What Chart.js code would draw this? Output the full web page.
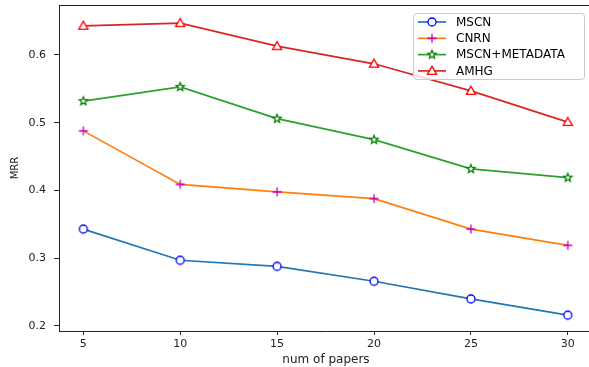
<!DOCTYPE html>
<html>
<head>
<meta charset="utf-8">
<script src="https://cdn.jsdelivr.net/npm/chart.js@4.4.1/dist/chart.umd.min.js"></script>
<style>
html,body{margin:0;padding:0;background:#fff;overflow:hidden}
#wrap{width:593px;height:367px;position:relative}
</style>
</head>
<body>
<div id="wrap"><canvas id="mrrChart"></canvas></div>
<script>
/* ---------- data ---------- */
const numPapers=[5,10,15,20,25,30];
const mscn=[0.343,0.297,0.288,0.266,0.240,0.216];
const cnrn=[0.488,0.409,0.398,0.388,0.343,0.319];
const mscnMeta=[0.532,0.553,0.506,0.475,0.432,0.419];
const amhg=[0.643,0.647,0.613,0.587,0.547,0.501];
const yTicks=[0.2,0.3,0.4,0.5,0.6];
const seriesNames=["MSCN","CNRN","MSCN+METADATA","AMHG"];

const FONT="'DejaVu Sans', sans-serif";

/* ---------- markers (matplotlib look) ---------- */
function makeMarker(kind){
    const c=document.createElement("canvas");
    c.width=14;c.height=14;
    const g=c.getContext("2d");
    g.translate(7,7);
    g.lineWidth=1.3;
    g.fillStyle="#fff";
    if(kind==="circle"){
        g.strokeStyle="#0000ff";
        g.beginPath();g.arc(0,0,4,0,Math.PI*2);g.fill();g.stroke();
    }else if(kind==="plus"){
        g.strokeStyle="#bf00bf";
        g.beginPath();
        g.moveTo(-4.5,0);g.lineTo(4.5,0);
        g.moveTo(0,-4.5);g.lineTo(0,4.5);
        g.stroke();
    }else if(kind==="star"){
        g.strokeStyle="#008000";
        g.beginPath();
        for(let i=0;i<10;i++){
            const r=i%2===0?4.3:1.9;
            const a=-Math.PI/2+i*Math.PI/5;
            const px=r*Math.cos(a),py=r*Math.sin(a);
            if(i===0)g.moveTo(px,py);else g.lineTo(px,py);
        }
        g.closePath();g.fill();g.stroke();
    }else{
        g.strokeStyle="#ff0000";
        g.beginPath();
        g.moveTo(0,-4.6);g.lineTo(4.6,3.4);g.lineTo(-4.6,3.4);
        g.closePath();g.fill();g.stroke();
    }
    return c;
}

const markers=[makeMarker("circle"),makeMarker("plus"),makeMarker("star"),makeMarker("triangle")];
const lineColors=["#1f77b4","#ff7f0e","#2ca02c","#d62728"];
const allSeries=[mscn,cnrn,mscnMeta,amhg];

function pts(vals){
    return numPapers.map((x,i)=>({x:x,y:vals[i]}));
}

const datasets=allSeries.map((vals,i)=>({
    label:seriesNames[i],
    data:pts(vals),
    borderColor:lineColors[i],
    borderWidth:1.7,
    pointStyle:markers[i],
    pointRadius:4,
    pointHoverRadius:4,
    fill:false,
    tension:0,
    order:4-i
}));

/* ---------- plugins ---------- */
const frameAndLegend={
    id:"frameAndLegend",
    afterDraw(chart){
        const ctx=chart.ctx;
        const a=chart.chartArea;
        ctx.save();
        // top spine
        ctx.strokeStyle="#222";
        ctx.lineWidth=1;
        ctx.beginPath();
        ctx.moveTo(a.left,a.top+0.5);
        ctx.lineTo(a.right,a.top+0.5);
        ctx.stroke();

        // legend box
        const bx=413.5,by=13.5,bw=171,bh=66;
        ctx.fillStyle="rgba(255,255,255,0.8)";
        ctx.strokeStyle="#cccccc";
        ctx.beginPath();
        ctx.roundRect(bx,by,bw,bh,3);
        ctx.fill();ctx.stroke();

        ctx.font="12px "+FONT;
        ctx.textBaseline="middle";
        seriesNames.forEach((name,i)=>{
            const y=22+i*16.3;
            ctx.strokeStyle=lineColors[i];
            ctx.lineWidth=1.7;
            ctx.beginPath();
            ctx.moveTo(418,y);ctx.lineTo(446,y);
            ctx.stroke();
            ctx.drawImage(markers[i],432-7,y-7);
            ctx.fillStyle="#000";
            ctx.fillText(name,456,y+0.5);
        });
        ctx.restore();
    }
};

function noPad(scale){
    scale.paddingTop=0;
    scale.paddingBottom=0;
    scale.paddingLeft=0;
    scale.paddingRight=0;
}

/* ---------- chart ---------- */
new Chart(document.getElementById("mrrChart"),{
    type:"line",
    data:{datasets:datasets},
    options:{
        responsive:true,
        maintainAspectRatio:false,
        animation:false,
        events:[],
        layout:{autoPadding:false,padding:{top:5,right:0,left:0,bottom:0}},
        plugins:{
            legend:{display:false},
            tooltip:{enabled:false}
        },
        scales:{
            x:{
                type:"linear",
                min:3.745,
                max:31.3,
                afterBuildTicks(scale){
                    scale.ticks=numPapers.map(v=>({value:v}));
                },
                afterFit(scale){
                    scale.height=36;
                    noPad(scale);
                },
                grid:{
                    display:true,
                    drawOnChartArea:false,
                    tickLength:4,
                    tickColor:"#222"
                },
                border:{display:true,color:"#222",width:1},
                ticks:{
                    font:{family:FONT,size:11},
                    color:"#222",
                    padding:3,
                    maxRotation:0,
                    callback:v=>String(v)
                },
                title:{
                    display:true,
                    text:"num of papers",
                    font:{family:FONT,size:12},
                    color:"#222",
                    padding:{top:0,bottom:0}
                }
            },
            y:{
                min:0.1926,
                max:0.6738,
                afterBuildTicks(scale){
                    scale.ticks=yTicks.map(v=>({value:v}));
                },
                afterFit(scale){
                    scale.width=59;
                    noPad(scale);
                },
                grid:{
                    display:true,
                    drawOnChartArea:false,
                    tickLength:5,
                    tickColor:"#222"
                },
                border:{display:true,color:"#222",width:1},
                ticks:{
                    font:{family:FONT,size:11},
                    color:"#222",
                    padding:8,
                    callback:v=>v.toFixed(1)
                },
                title:{
                    display:true,
                    text:"MRR",
                    font:{family:FONT,size:10},
                    color:"#222",
                    padding:{top:9,bottom:0}
                }
            }
        }
    },
    plugins:[frameAndLegend]
});
</script>
</body>
</html>
